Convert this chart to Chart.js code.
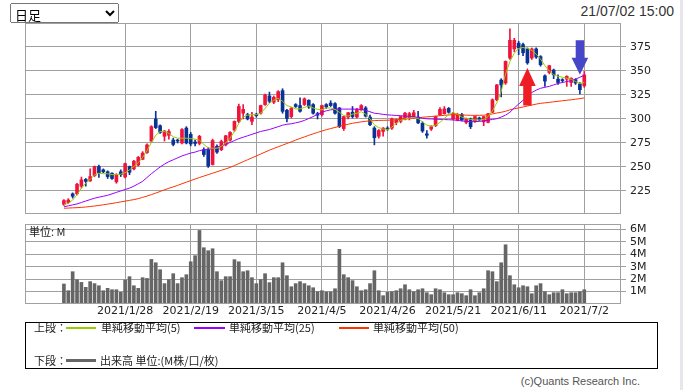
<!DOCTYPE html>
<html>
<head>
<meta charset="utf-8">
<script src="https://cdn.jsdelivr.net/npm/chart.js@4.4.1/dist/chart.umd.min.js"></script>
<style>
body { margin: 0; background: #fff; width: 683px; height: 390px; overflow: hidden; position: relative; font-family: "Noto Sans CJK JP", sans-serif; }
canvas { position: absolute; left: 0; }
#priceChart { top: 0; }
#volChart { top: 215px; }
#span { position: absolute; left: 10px; top: 3px; width: 109px; height: 20px; font-size: 13px; font-family: "Noto Sans CJK JP", sans-serif; z-index: 2; }
#stamp { position: absolute; right: 9px; top: 3px; font: 14px "Liberation Sans", sans-serif; color: #333; line-height: 17px; }
#unit { position: absolute; left: 29px; top: 225px; font-size: 11px; line-height: 13px; color: #222; }
#legend { position: absolute; left: 25px; top: 322px; width: 631px; height: 45px; border: 1px solid #000; }
.lg { position: absolute; font-size: 11px; line-height: 13px; color: #222; white-space: nowrap; }
.ln { position: absolute; display: block; height: 2px; }
#copy { position: absolute; right: 43px; top: 374px; font: 11px "Liberation Sans", sans-serif; color: #555; line-height: 14px; }
#edge { position: absolute; right: 0; top: 0; width: 3px; height: 390px; background: #e6e6ec; }
</style>
</head>
<body>
<select id="span"><option>日足</option></select>
<div id="stamp">21/07/02 15:00</div>
<canvas id="priceChart" width="683" height="215"></canvas>
<canvas id="volChart" width="683" height="105"></canvas>
<div id="unit">単位: M</div>
<div id="legend">
  <span class="lg" style="left:8px;top:-2px">上段：</span>
  <span class="ln" style="left:40px;top:4px;width:30px;background:#99cc00"></span>
  <span class="lg" style="left:75px;top:-2px">単純移動平均(5)</span>
  <span class="ln" style="left:168px;top:4px;width:31px;background:#9900ff"></span>
  <span class="lg" style="left:203px;top:-2px">単純移動平均(25)</span>
  <span class="ln" style="left:313px;top:4px;width:30px;background:#ff3300"></span>
  <span class="lg" style="left:347px;top:-2px">単純移動平均(50)</span>
  <span class="lg" style="left:8px;top:31px">下段：</span>
  <span class="ln" style="left:40px;top:36px;width:30px;height:3px;background:#666"></span>
  <span class="lg" style="left:74px;top:31px">出来高 単位:(M株/口/枚)</span>
</div>
<div id="copy">(c)Quants Research Inc.</div>
<div id="edge"></div>
<script>
// 2021/1/7 〜 2021/7/2 の日足 (120本)
const tickIdx = [14, 29, 44, 59, 74, 89, 104, 119];
const tickLabels = ['2021/1/28', '2021/2/19', '2021/3/15', '2021/4/5', '2021/4/26', '2021/5/21', '2021/6/11', '2021/7/2'];
const priceTicks = [225, 250, 275, 300, 325, 350, 375];
const volTicks = [1, 2, 3, 4, 5, 6];

const open = [
  211, 213, 222, 222, 230, 237, 235.5, 241, 250.5, 247,
  245, 243.5, 234.5, 245, 239.5, 250.5, 248, 252, 258, 265,
  277, 300, 293, 282, 283, 278, 278, 275, 290.5, 284,
  276, 274.5, 268, 268, 252.5, 271.5, 268, 273, 278, 288.5,
  297.5, 306, 304.5, 297.5, 305, 306, 315, 324, 317.5, 320,
  329.5, 309, 302.5, 315, 314, 315, 319.5, 315, 305.5, 304.5,
  315, 316.5, 316, 311.5, 290, 302, 307, 302, 309.5, 311.5,
  302, 290.5, 282, 287, 290.5, 290.5, 296, 297.5, 300, 300.5,
  302, 302, 295.5, 284.5, 289.5, 293, 304.5, 305.5, 311, 300,
  299, 304.5, 296.5, 300, 297.5, 301, 297, 296.5, 307, 320,
  340.5, 337.5, 363.5, 373, 379, 377.5, 373, 363.5, 373, 365,
  345, 348.5, 351, 341.5, 341, 341.5, 338, 341, 336.5, 334.5
];
const high = [
  216, 217, 223, 233, 239.5, 238, 248, 251, 252, 248,
  246, 244, 243, 247, 254, 251, 257, 261, 266, 274,
  293, 308, 294, 288, 289, 280, 279, 290, 292, 286,
  278, 283, 270, 270, 279, 273, 278, 283, 287, 298,
  315.5, 315, 306, 307, 306, 314.5, 326, 328, 324, 329.5,
  331.5, 310, 312, 316, 322, 322, 320, 316, 307, 314.5,
  316, 319, 317, 312, 303, 307, 313, 311, 315, 313,
  304, 292, 289, 291, 292, 301, 300, 303, 307, 307,
  309, 308, 297, 288, 293, 303, 312, 313, 312, 307,
  306, 306, 301, 301, 303, 302, 303, 306, 321, 336,
  342, 360.5, 394, 384, 381, 379, 374, 374, 374, 366,
  346, 356, 352, 346, 342, 345, 343, 342, 338, 349.5
];
const low = [
  210, 212, 217.5, 221, 228, 230, 235, 240, 239, 244,
  238, 237, 233, 240, 238.5, 242, 247, 251, 257.5, 264,
  276, 290, 285, 277, 279, 272, 275, 274, 274, 272,
  272, 273, 261, 249.5, 252, 264, 267, 272, 277, 287,
  296, 300, 299, 294, 302, 305, 314, 317, 316, 318,
  306, 297, 301, 312, 307, 314, 311, 305, 300, 303,
  311, 313, 305, 291, 288, 300, 301, 301, 309, 302,
  293, 273, 280, 282, 288, 289, 294, 296, 299, 299,
  301, 295, 286, 280, 288, 292, 303.5, 305, 306, 299,
  298, 298, 295, 290, 296.5, 298, 293, 296, 306.5, 319,
  323, 336, 362, 370, 367, 366, 357, 362, 363, 355,
  334, 347, 342, 336, 338, 334, 334, 336, 326, 333
];
const close = [
  215, 215.5, 219.5, 232, 236.5, 235, 240, 250.5, 244, 245,
  240, 238, 242, 242, 253.5, 244.5, 256, 260, 264.5, 273,
  292, 291, 286, 287.5, 287, 273.5, 277, 289, 275, 274,
  274.5, 282, 263, 251, 277.5, 265.5, 276.5, 282.5, 286, 297.5,
  313, 310, 300, 302, 303.5, 314, 325, 318.5, 322.5, 328.5,
  308, 300.5, 311, 313, 308, 321, 312.5, 306, 304, 314,
  312.5, 314, 306, 292, 302.5, 306.5, 302.5, 310, 314, 303,
  294, 280.5, 288, 290.5, 289.5, 300, 299, 302.5, 306, 305.5,
  306.5, 296, 287.5, 283, 292, 302.5, 310, 310.5, 307, 306,
  304.5, 299, 300.5, 292, 302.5, 299, 302.5, 305.5, 320, 335.5,
  335.5, 360, 382, 382, 374, 369, 358.5, 373, 364.5, 356.5,
  339.5, 355.5, 346, 338, 340, 344.5, 342.5, 337.5, 330.5, 346
];
// 出来高 (M)
const volume = [
  1.61, 1.07, 2.6, 1.96, 1.74, 1.34, 1.8, 1.64, 1.47, 1.07,
  1.26, 1.15, 1.15, 0.94, 1.93, 2.2, 1.47, 1.26, 2.12, 2.06,
  3.59, 3.32, 2.76, 1.64, 1.96, 2.44, 1.64, 2.12, 2.36, 3.4,
  3.89, 5.92, 4.53, 4.29, 4.45, 2.6, 1.88, 2.2, 2.2, 3.57,
  3.4, 2.6, 2.68, 2.12, 1.64, 1.96, 2.44, 1.72, 2.12, 2.12,
  3.32, 2.28, 1.39, 1.64, 1.8, 1.64, 1.47, 1.31, 0.99, 1.07,
  0.97, 0.97, 1.23, 4.4, 2.36, 2.12, 1.88, 1.39, 1.07, 1.15,
  1.64, 2.68, 1.07, 0.67, 0.94, 0.99, 1.07, 1.23, 1.55, 1.15,
  0.99, 1.15, 1.23, 0.91, 0.75, 1.23, 1.15, 0.91, 0.75, 0.75,
  0.91, 0.83, 0.67, 1.15, 0.67, 0.91, 1.23, 2.68, 2.6, 1.8,
  3.32, 4.77, 2.28, 1.55, 1.31, 1.47, 1.39, 0.83, 1.47, 1.64,
  0.99, 0.75, 0.91, 0.91, 1.15, 0.83, 0.91, 0.91, 0.99, 1.15
];
const ma5 = [
  211, 212, 215.5, 221, 228, 233, 237, 241.5, 243.5, 243,
  243, 242, 242, 242.5, 244, 247, 250.5, 254.5, 260, 267,
  275.5, 283, 287, 287, 285, 281.5, 280, 280, 280, 279.5,
  279, 278, 273.5, 270, 269.5, 269.5, 271.5, 275, 280, 287,
  295.5, 302, 304, 304.5, 304.5, 306, 311, 316.5, 319.5, 321.5,
  318.5, 314, 312.5, 310.5, 310.5, 312, 313.5, 311.5, 310, 309.5,
  311.5, 311.5, 310, 307, 303.5, 303, 305, 306, 307.5, 305,
  300, 294, 291, 289.5, 288.8, 291.5, 295.5, 298.5, 300, 301,
  301.5, 300.5, 297, 293.5, 292.5, 293.5, 296.5, 300.5, 304.5, 306.5,
  305, 302, 300.5, 299.5, 299, 299, 299.5, 302.5, 308.5, 317,
  328.5, 347, 360, 368.5, 373.5, 374.5, 373.5, 371.5, 367.5, 362.5,
  355.5, 350, 346, 344.5, 343.5, 342.5, 341.5, 339, 337, 338
];
const ma25 = [
  208.5, 209.5, 210.5, 211.5, 213, 214.5, 216, 217.5, 218.5, 219.5,
  220.5, 222, 223.5, 225, 226.5, 228, 230, 232.5, 235, 239,
  243, 246.5, 250, 253, 255.5, 257.5, 259.5, 261.5, 263, 264.5,
  265.5, 267, 268, 268.5, 269, 270.5, 272, 273.5, 275.5, 277.5,
  279.5, 281, 282.5, 284, 285.5, 287, 288, 289, 290.5, 292,
  293.5, 294.5, 295, 296, 297, 298.5, 300.5, 302.5, 305, 307,
  308.5, 309.5, 310, 310.3, 310.3, 310.3, 310.3, 310.3, 310, 309,
  307.5, 306, 305.5, 304.8, 304.3, 304, 303.7, 303.4, 303, 302.7,
  302.3, 301.5, 300.8, 300.2, 300, 299.8, 299.6, 299.4, 299.2, 299,
  298.5, 298, 297.5, 297.2, 297.2, 297.5, 298, 298.8, 299.5, 300.3,
  302, 304, 307, 311.5, 315.5, 319.5, 324, 327.5, 330, 332,
  333, 334, 335.5, 337, 338, 339, 340, 341.5, 343.5, 345.5
];
const ma50 = [
  207, 207.2, 207.4, 207.6, 207.9, 208.3, 208.8, 209.3, 209.9, 210.6,
  211.3, 212, 212.8, 213.6, 214.4, 215.2, 216, 217, 218.3, 219.7,
  221.2, 222.8, 224.5, 226.2, 227.8, 229.3, 230.8, 232.5, 234.2, 235.8,
  237.4, 239, 240.5, 242, 243.5, 245, 246.5, 248, 249.5, 251.5,
  253.5, 255.5, 257.5, 259.5, 261.5, 263.5, 265.5, 267.5, 269.3, 271,
  272.7, 274.5, 276.2, 278, 279.7, 281.3, 283, 284.5, 286, 287.4,
  288.8, 290, 291.2, 292.4, 293.5, 294.5, 295.5, 296.3, 297, 297.6,
  298, 298.3, 298.5, 298.6, 298.7, 298.9, 299.2, 299.5, 299.9, 300.3,
  300.8, 301.3, 301.8, 302.2, 302.6, 303, 303.4, 303.8, 304.2, 304.5,
  304.5, 304.3, 304, 303.8, 303.8, 303.8, 304, 304.5, 305.3, 306.2,
  307, 308, 309.5, 310.7, 311.5, 312.5, 313.5, 314.5, 315.5, 316.3,
  316.8, 317.3, 317.9, 318.4, 319, 319.5, 320, 320.6, 321.2, 322
];
// シグナル矢印 (足の番号, 先端の値, 根元の値)
const buySignal = { i: 106, tip: 353, tail: 314 };
const sellSignal = { i: 118, tip: 346, tail: 382 };

const UP = '#f0143c', DOWN = '#0a3296', GRID = '#a0a0a0';
const candleColors = close.map((c, i) => c >= open[i] ? UP : DOWN);
const xMin = -8.9, xMax = 127.4;

const frame = {
  id: 'frame',
  afterDraw(chart) {
    const { ctx, chartArea: a } = chart;
    ctx.save();
    ctx.strokeStyle = GRID;
    ctx.lineWidth = 1;
    ctx.strokeRect(a.left + 0.5, a.top + 0.5, a.right - a.left - 1, a.bottom - a.top - 1);
    ctx.restore();
  }
};

function drawArrow(ctx, cx, yTip, yTail, color, headH) {
  const dir = yTail > yTip ? 1 : -1;
  const headW = 8.3, shaftW = 4.2, hy = yTip + headH * dir;
  ctx.fillStyle = color;
  ctx.beginPath();
  ctx.moveTo(cx, yTip);
  ctx.lineTo(cx + headW, hy);
  ctx.lineTo(cx + shaftW, hy);
  ctx.lineTo(cx + shaftW, yTail);
  ctx.lineTo(cx - shaftW, yTail);
  ctx.lineTo(cx - shaftW, hy);
  ctx.lineTo(cx - headW, hy);
  ctx.closePath();
  ctx.fill();
}

const arrows = {
  id: 'arrows',
  afterDatasetsDraw(chart) {
    const { ctx, scales: { x, y } } = chart;
    ctx.save();
    drawArrow(ctx, x.getPixelForValue(buySignal.i), y.getPixelForValue(buySignal.tip), y.getPixelForValue(buySignal.tail), '#ee1c24', 18);
    drawArrow(ctx, x.getPixelForValue(sellSignal.i), y.getPixelForValue(sellSignal.tip), y.getPixelForValue(sellSignal.tail), '#4646c8', 17);
    ctx.restore();
  }
};

const xy = arr => arr.map((v, i) => ({ x: i, y: v }));
const tickFont = { family: 'DejaVu Sans', size: 11 };

function xScale(showLabels) {
  return {
    type: 'linear', min: xMin, max: xMax, offset: false,
    afterBuildTicks: s => { s.ticks = tickIdx.map(v => ({ value: v })); },
    ticks: {
      display: showLabels, autoSkip: false, maxRotation: 0, padding: 1,
      color: '#222', font: tickFont,
      callback: (v, idx) => tickLabels[idx]
    },
    grid: { color: GRID, drawTicks: false, offset: false },
    border: { display: false },
    afterFit: s => { s.height = showLabels ? 16 : 0; s.paddingLeft = 0; s.paddingRight = 0; }
  };
}

function yScale(min, max, ticks, fmt) {
  return {
    position: 'right', min: min, max: max,
    afterBuildTicks: s => { s.ticks = ticks.map(v => ({ value: v })); },
    ticks: { color: '#222', font: tickFont, padding: 4, autoSkip: false, callback: fmt },
    grid: { color: GRID, tickLength: 5 },
    border: { display: false },
    afterFit: s => { s.width = 62; s.paddingTop = 0; s.paddingBottom = 0; }
  };
}

new Chart(document.getElementById('priceChart'), {
  type: 'bar',
  data: {
    datasets: [
      { type: 'line', label: '単純移動平均(5)', data: xy(ma5), borderColor: '#99cc00', borderWidth: 1, pointRadius: 0, order: 1 },
      { type: 'line', label: '単純移動平均(25)', data: xy(ma25), borderColor: '#9900ff', borderWidth: 1, pointRadius: 0, order: 2 },
      { type: 'line', label: '単純移動平均(50)', data: xy(ma50), borderColor: '#ff3300', borderWidth: 1, pointRadius: 0, order: 3 },
      { label: 'body', data: open.map((o, i) => ({ x: i, y: [o, close[i]] })), backgroundColor: candleColors, barThickness: 3, minBarLength: 1, grouped: false, order: 10 },
      { label: 'wick', data: low.map((l, i) => ({ x: i, y: [l, high[i]] })), backgroundColor: candleColors, barThickness: 1, grouped: false, order: 11 }
    ]
  },
  options: {
    responsive: false, animation: false,
    layout: { padding: { left: 25, top: 23, right: 0, bottom: 1 } },
    plugins: { legend: { display: false }, tooltip: { enabled: false } },
    scales: {
      x: xScale(false),
      y: yScale(201, 400, priceTicks, v => v)
    }
  },
  plugins: [frame, arrows]
});

new Chart(document.getElementById('volChart'), {
  type: 'bar',
  data: {
    datasets: [
      { label: '出来高', data: xy(volume), backgroundColor: '#666666', barThickness: 3, grouped: false }
    ]
  },
  options: {
    responsive: false, animation: false,
    layout: { padding: { left: 25, top: 9, right: 0, bottom: 0 } },
    plugins: { legend: { display: false }, tooltip: { enabled: false } },
    scales: {
      x: xScale(true),
      y: yScale(0, 6.44, volTicks, v => v + 'M')
    }
  },
  plugins: [frame]
});
</script>
</body>
</html>
